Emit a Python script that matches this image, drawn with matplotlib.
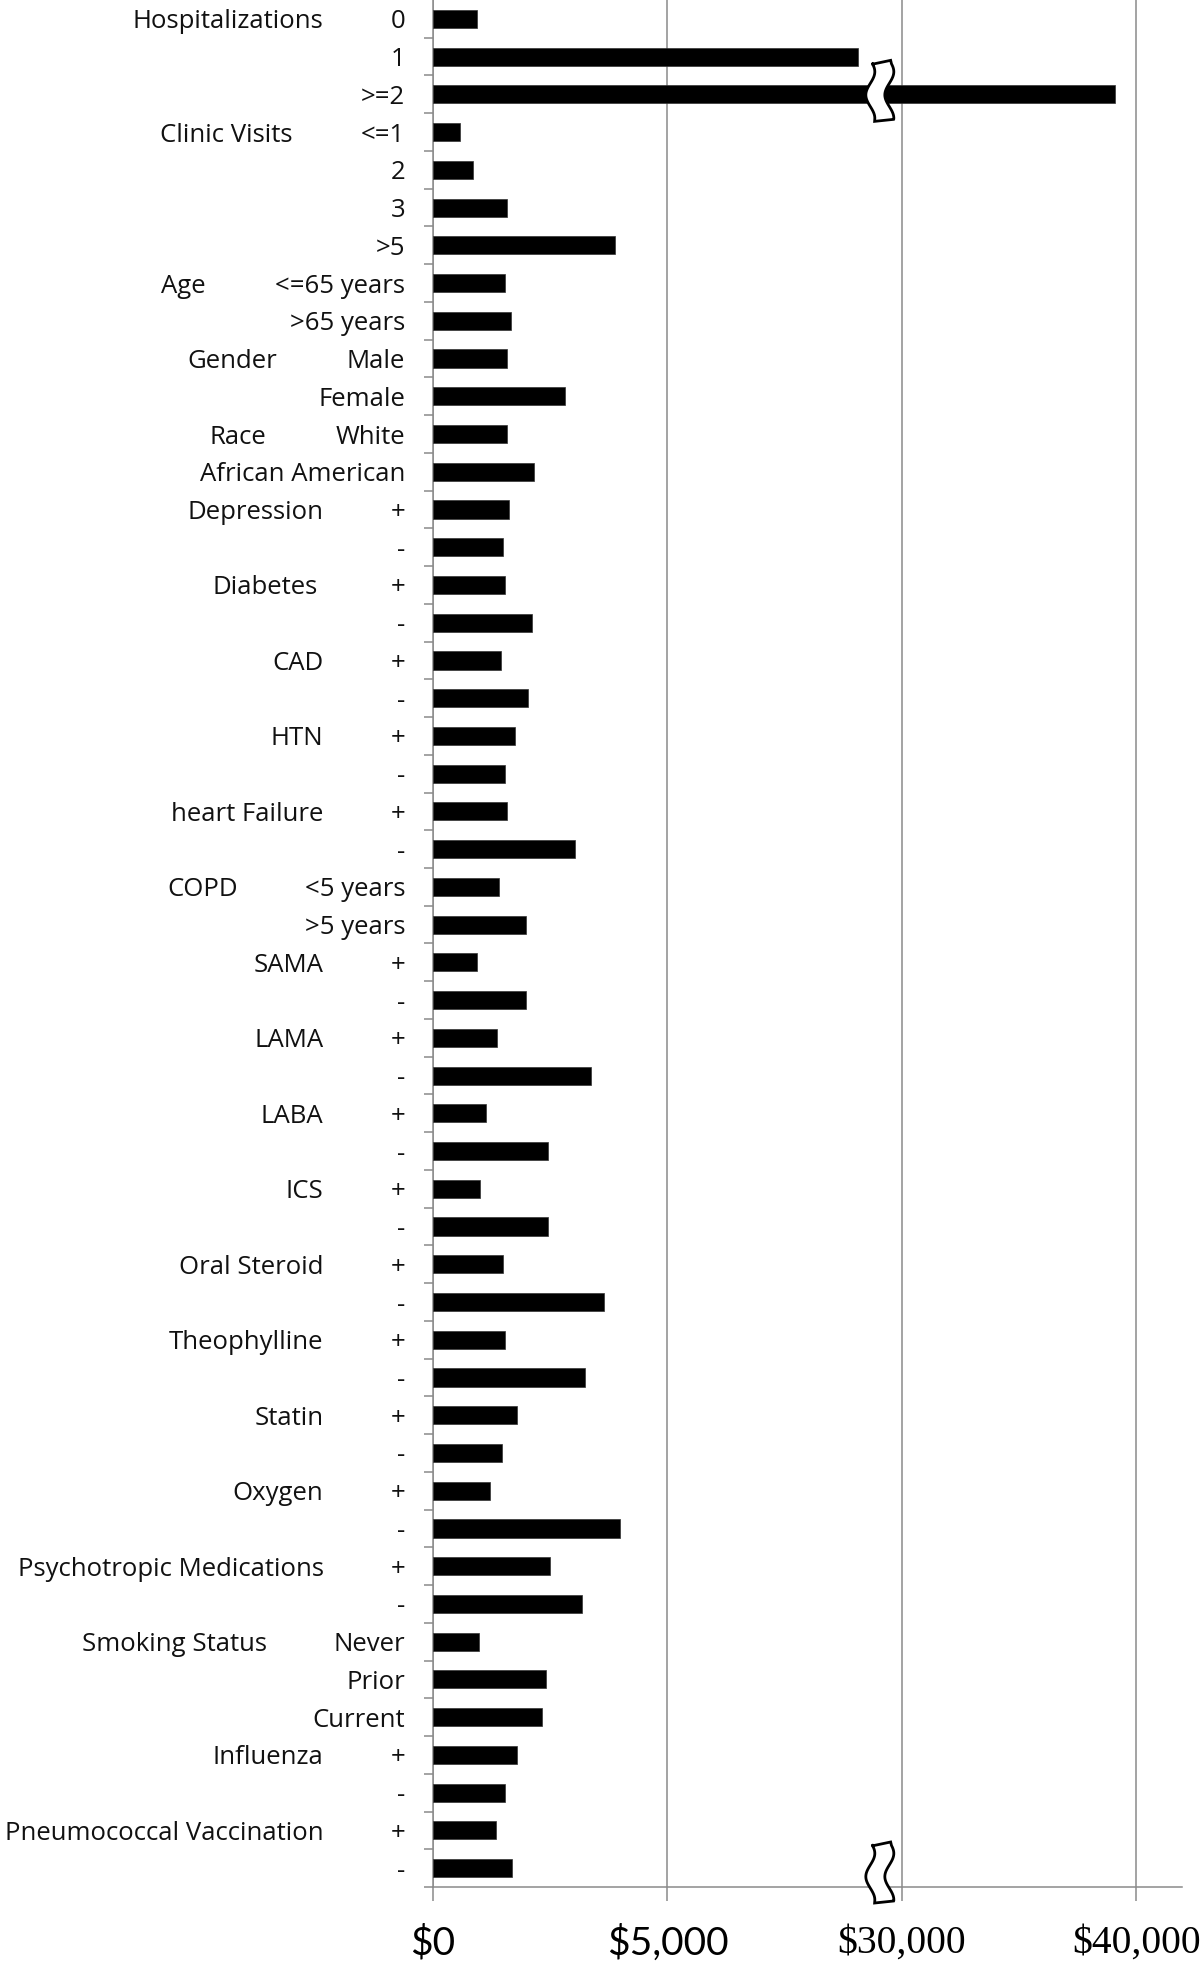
import numpy as np
import matplotlib
matplotlib.use("Agg")
import matplotlib.pyplot as plt
from matplotlib.path import Path
from matplotlib.patches import PathPatch
from matplotlib.transforms import IdentityTransform

# ---------------- data ----------------
groups = ["Hospitalizations", "Clinic Visits", "Age", "Gender", "Race", "Depression",
          "Diabetes", "CAD", "HTN", "heart Failure", "COPD", "SAMA", "LAMA", "LABA",
          "ICS", "Oral Steroid", "Theophylline", "Statin", "Oxygen",
          "Psychotropic Medications", "Smoking Status", "Influenza",
          "Pneumococcal Vaccination"]
group_sizes = [3, 4, 2, 2, 2, 2, 2, 2, 2, 2, 2, 2, 2, 2, 2, 2, 2, 2, 2, 2, 3, 2, 2]

categories = ["0", "1", ">=2",
              "<=1", "2", "3", ">5",
              "<=65 years", ">65 years",
              "Male", "Female",
              "White", "African American",
              "+", "-", "+", "-", "+", "-", "+", "-", "+", "-",
              "<5 years", ">5 years",
              "+", "-", "+", "-", "+", "-", "+", "-", "+", "-", "+", "-",
              "+", "-", "+", "-", "+", "-",
              "Never", "Prior", "Current",
              "+", "-", "+", "-"]

costs = [930, 9060, 39100,
         580, 845, 1580, 3880,
         1530, 1660,
         1580, 2810,
         1580, 2155,
         1625, 1495,
         1540, 2105,
         1460, 2025,
         1745, 1540,
         1575, 3020,
         1410, 1975,
         930, 1975,
         1355, 3370,
         1140, 2455,
         1005, 2455,
         1490, 3640,
         1545, 3235,
         1790, 1465,
         1220, 3990,
         2485, 3180,
         975, 2405, 2325,
         1790, 1545,
         1335, 1675]

tick_values = [0, 5000, 30000, 40000]
tick_labels = ["$0", "$5,000", "$30,000", "$40,000"]

# ---------------- layout / style ----------------
W, H, DPI = 1200, 1967, 100
SANS = ["Open Sans", "DejaVu Sans"]
TICK_SANS = ["Lato", "DejaVu Sans"]
SERIF = ["Liberation Serif", "DejaVu Serif"]
GRAY = "#8a8a8a"
LABEL_SIZE = 18.5
CUT_LO, CUT_HI = 10000, 30000   # broken-axis region


def fwd(x):
    x = np.asarray(x, dtype=float)
    return np.where(x <= CUT_LO, x / 5000.0,
                    np.where(x >= CUT_HI, 2.0 + (x - CUT_HI) / 10000.0, 2.0))


def inv(u):
    u = np.asarray(u, dtype=float)
    return np.where(u <= 2.0, u * 5000.0, CUT_HI + (u - 2.0) * 10000.0)


fig = plt.figure(figsize=(W / DPI, H / DPI), dpi=DPI)
ax_left, ax_right = 433 / W, 1182 / W
ax_bottom, ax_top = (H - 1887) / H, 1.0
ax = fig.add_axes([ax_left, ax_bottom, ax_right - ax_left, ax_top - ax_bottom])
ax.set_xscale("function", functions=(fwd, inv))

n = len(categories)
ypos = np.arange(n)
ax.barh(ypos, costs, height=0.48, color="black", edgecolor="#333333",
        linewidth=0.5, zorder=3)

ax.set_ylim(n - 0.5, -0.5)
ax.set_xlim(0, 41950)

# x axis
ax.set_xticks(tick_values)
ax.set_xticklabels(tick_labels)
for lab, v in zip(ax.get_xticklabels(), tick_values):
    if v >= CUT_HI:
        lab.set_fontfamily(SERIF)
        lab.set_fontsize(28.5)
    else:
        lab.set_fontfamily(TICK_SANS)
        lab.set_fontsize(28)
ax.tick_params(axis="x", which="major", length=10, width=1.1, color=GRAY,
               pad=17, labelcolor="black")
ax.grid(axis="x", color=GRAY, linewidth=1.1, zorder=0)
ax.set_axisbelow(True)

# y axis
ax.set_yticks(ypos)
ax.set_yticklabels(categories, fontfamily=SANS, fontsize=LABEL_SIZE)
ax.tick_params(axis="y", which="major", length=0, pad=20, labelcolor="#111111")
ax.set_yticks(np.arange(-0.5, n, 1.0)[1:], minor=True)
ax.tick_params(axis="y", which="minor", length=6.5, width=1.1, color=GRAY)

for s in ["top", "right"]:
    ax.spines[s].set_visible(False)
for s in ["left", "bottom"]:
    ax.spines[s].set_color(GRAY)
    ax.spines[s].set_linewidth(1.1)

# group labels (right edges in pixels, as in the reference layout)
label_right_px = {"Clinic Visits": 293, "Age": 206, "Gender": 277, "Race": 266,
                  "COPD": 238, "Smoking Status": 267, "Diabetes": 318}
start = 0
for g, size in zip(groups, group_sizes):
    xr = label_right_px.get(g, 323.5)
    dx_pts = -(433 - xr) * 72.0 / DPI
    ax.annotate(g, xy=(0, start), xycoords=("axes fraction", "data"),
                xytext=(dx_pts, 0), textcoords="offset points",
                ha="right", va="center_baseline", fontsize=LABEL_SIZE,
                fontfamily=SANS, color="#111111", annotation_clip=False)
    start += size

# break symbols
break_value = 9530


def squiggle(xc, yc, w=19, h=58, amp=4.5):
    t = np.linspace(0, 1, 40)
    off = amp * np.sin(2 * np.pi * 1.25 * t + 0.3)
    ys = yc + h / 2 - h * t
    left = np.column_stack([xc - w / 2 + off, ys])
    right = np.column_stack([xc + w / 2 + off[::-1], ys[::-1]])
    left[0, 1] -= 2
    left[-1, 1] -= 1
    right[0, 1] += 1
    right[-1, 1] += 2
    verts = np.vstack([left, right, left[:1]])
    codes = [Path.MOVETO] + [Path.LINETO] * (len(verts) - 2) + [Path.CLOSEPOLY]
    return Path(verts, codes)


fig.canvas.draw()
xb, yb1 = ax.transData.transform((break_value, 2))
_, yaxis = ax.transData.transform((break_value, n - 0.5))
for (xc, yc) in [(xb, yb1 + 3), (xb, yaxis + 14)]:
    p = PathPatch(squiggle(xc, yc), facecolor="white", edgecolor="black",
                  linewidth=2.0, transform=IdentityTransform(), zorder=10,
                  clip_on=False)
    fig.add_artist(p)

fig.savefig("out.png", dpi=DPI)
